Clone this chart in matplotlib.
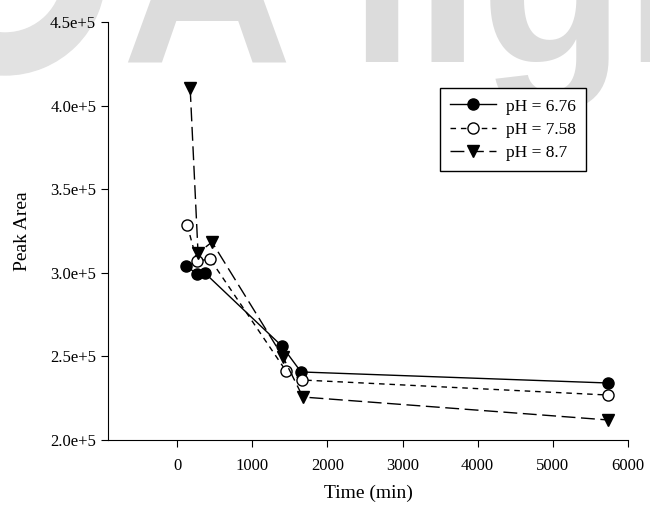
import matplotlib.pyplot as plt
from matplotlib.patches import Wedge

plt.rcParams['font.family'] = ['Liberation Serif', 'DejaVu Serif']

# time points (min) and peak areas for each pH
time_676 = [120, 265, 370, 1395, 1650, 5730]
area_676 = [3.042e5, 2.993e5, 2.999e5, 2.562e5, 2.407e5, 2.341e5]

time_758 = [135, 265, 440, 1450, 1660, 5730]
area_758 = [3.286e5, 3.071e5, 3.082e5, 2.413e5, 2.359e5, 2.269e5]

time_87 = [175, 280, 465, 1410, 1675, 5730]
area_87 = [4.105e5, 3.118e5, 3.184e5, 2.496e5, 2.257e5, 2.120e5]

y_ticks = [2.0e5, 2.5e5, 3.0e5, 3.5e5, 4.0e5, 4.5e5]
y_labels = ['2.0e+5', '2.5e+5', '3.0e+5', '3.5e+5', '4.0e+5', '4.5e+5']
x_ticks = [0, 1000, 2000, 3000, 4000, 5000, 6000]

fig = plt.figure(figsize=(6.5, 5.05), dpi=100)

# light grey logo in the background
fig.text(122 / 650, 1 - 62 / 505, 'A lign', fontsize=170, fontweight='bold',
         family='Liberation Sans', color='#dcdcdc', zorder=-10)
ring = Wedge((0.05, 5.05 + 0.25), 1.0, 0, 360, width=0.42,
             transform=fig.dpi_scale_trans, color='#e2e2e2', zorder=-10)
fig.patches.append(ring)

ax = fig.add_axes([108 / 650, 1 - 440 / 505, (628 - 108) / 650, (440 - 22) / 505])
ax.patch.set_alpha(0)

ax.plot(time_676, area_676, color='black', linestyle='-', linewidth=1,
        marker='o', markersize=8, markerfacecolor='black', label='pH = 6.76')
ax.plot(time_758, area_758, color='black', linestyle=(0, (4, 3.5)), linewidth=1,
        marker='o', markersize=8, markerfacecolor='white', label='pH = 7.58')
ax.plot(time_87, area_87, color='black', linestyle=(0, (10, 4)), linewidth=1,
        marker='v', markersize=8, markerfacecolor='black', label='pH = 8.7')

ax.set_xlim(-918, 6000)
ax.set_ylim(2.0e5, 4.5e5)
ax.set_xticks(x_ticks)
ax.set_yticks(y_ticks)
ax.set_yticklabels(y_labels)
ax.spines['top'].set_visible(False)
ax.spines['right'].set_visible(False)
ax.tick_params(direction='out', length=5, width=0.8, labelsize=12)
ax.tick_params(axis='x', pad=8)
ax.set_xlabel('Time (min)', fontsize=14, labelpad=8)
ax.set_ylabel('Peak Area', fontsize=14, labelpad=14)

leg = ax.legend(loc='upper left', bbox_to_anchor=(440 / 650, 1 - 88 / 505),
                bbox_transform=fig.transFigure, fontsize=12.5, frameon=True,
                fancybox=False, edgecolor='black', framealpha=1,
                handlelength=2.6, handletextpad=0.6, borderpad=0.6,
                labelspacing=0.4, borderaxespad=0)
leg.get_frame().set_linewidth(1)

fig.savefig('out.png', dpi=100)
